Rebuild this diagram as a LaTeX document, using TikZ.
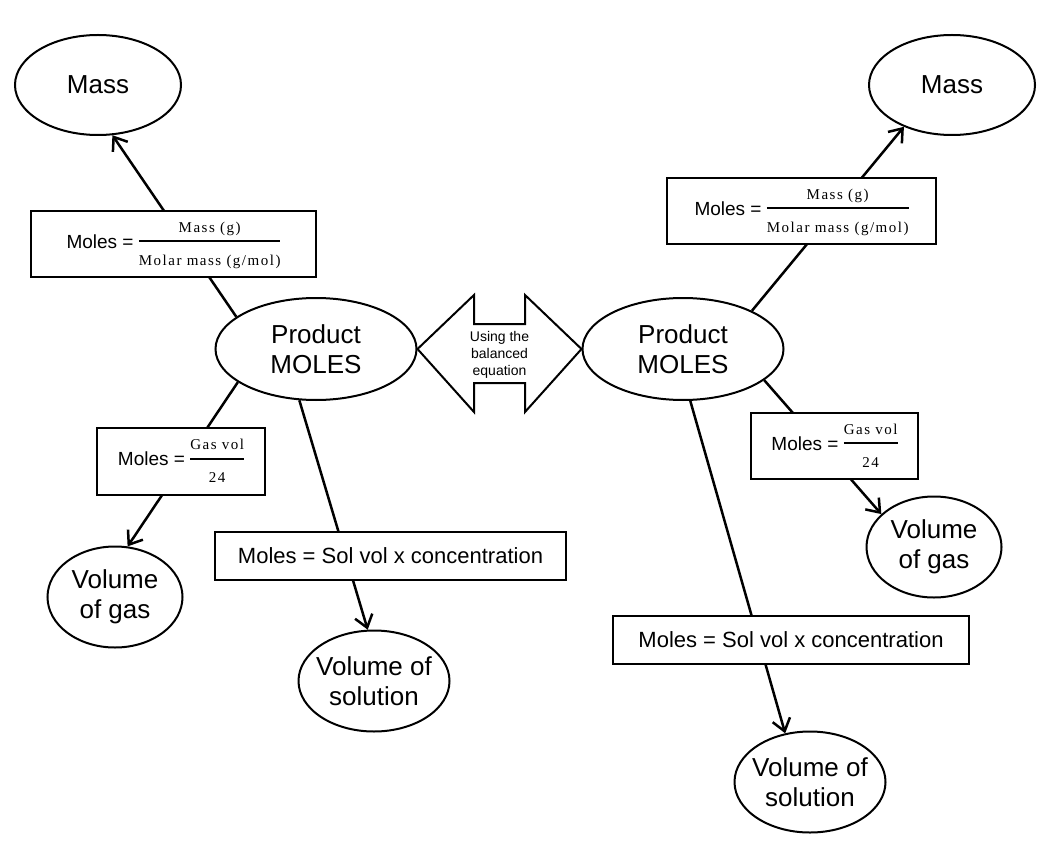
\documentclass[tikz,border=0pt]{standalone}
\usepackage{fontspec}
\setmainfont{Liberation Sans}
\newfontfamily\fracfont[LetterSpace=10]{Liberation Serif}
\usetikzlibrary{shapes}
\usetikzlibrary{arrows.meta}

\setlength{\arrayrulewidth}{2pt}
\newcommand{\molfrac}[2]{\begin{tabular}[c]{@{}c@{}}{\fracfont\fontsize{15}{17}\selectfont #1}\\[1pt]\hline\rule{0pt}{23pt}{\fracfont\fontsize{15}{17}\selectfont #2}\end{tabular}}

\begin{document}
\begin{tikzpicture}[x=1pt,y=-1pt]
				\tikzstyle{bubble}=[ellipse,draw,line width=2pt,inner sep=0pt]
				\tikzstyle{bubbletext}=[font=\fontsize{26}{30}\selectfont,align=center]
				\tikzstyle{formula}=[rectangle,draw,fill=white,line width=2.5pt,font=\fontsize{19}{23}\selectfont]
				\tikzstyle{solbox}=[formula,font=\fontsize{22}{26}\selectfont,minimum height=48pt]
				\tikzstyle{link}=[line width=2.5pt,-{Straight Barb[length=12pt,width=18pt]}]
				
				\useasboundingbox (0,0) rectangle (1064,866);
				
				% left side
				\node[bubble,minimum width=166pt,minimum height=100pt,label={[bubbletext]center:Mass}] (massL) at (98,85) {};
				\node[bubble,minimum width=201pt,minimum height=102pt,label={[bubbletext]center:Product\\MOLES}] (pmL) at (316,349) {};
				\node[bubble,minimum width=135pt,minimum height=101pt,label={[bubbletext]center:Volume\\of gas}] (gasL) at (115,597) {};
				\node[bubble,minimum width=151pt,minimum height=101pt,label={[bubbletext]center:Volume of\\solution}] (solL) at (374,681) {};
				
				% right side
				\node[bubble,minimum width=166pt,minimum height=100pt,label={[bubbletext]center:Mass}] (massR) at (952,85) {};
				\node[bubble,minimum width=201pt,minimum height=102pt,label={[bubbletext]center:Product\\MOLES}] (pmR) at (683,349) {};
				\node[bubble,minimum width=135pt,minimum height=101pt,label={[bubbletext]center:Volume\\of gas}] (gasR) at (934,547) {};
				\node[bubble,minimum width=151pt,minimum height=101pt,label={[bubbletext]center:Volume of\\solution}] (solR) at (810,782) {};
				
				\draw[link] (pmL.158) -- (massL.-74);
				\draw[link] (pmL.203) -- (gasL.76);
				\draw[link] (pmL.252) -- (solL.97);
				\draw[link] (pmR.29) -- (massR.221);
				\draw[link] (pmR.-21) -- (gasR.148);
				\draw[link] (pmR.-82) -- (solR.117);
				
				% formula boxes over the links
				\node[formula,minimum width=285pt,minimum height=66pt] (massboxL) at (173.5,244) {Moles = \molfrac{Mass (g)}{Molar mass (g/mol)}};
				\node[formula,minimum width=168pt,minimum height=67pt] (gasboxL) at (181,461.5) {Moles = \molfrac{Gas vol}{24}};
				\node[solbox,minimum width=351pt] (solboxL) at (390.5,556) {Moles = Sol vol x concentration};
				\node[formula,minimum width=269pt,minimum height=66pt] (massboxR) at (801.5,211) {Moles = \molfrac{Mass (g)}{Molar mass (g/mol)}};
				\node[formula,minimum width=167pt,minimum height=66pt] (gasboxR) at (834.5,446) {Moles = \molfrac{Gas vol}{24}};
				\node[solbox,minimum width=356pt] (solboxR) at (791,640) {Moles = Sol vol x concentration};
				
				% the two-way arrow
				\draw[line width=2pt,line join=miter] (pmL.east) -- (474,295) -- (474,324) -- (525,324) -- (525,295) -- (pmR.west) -- (525,412) -- (525,383) -- (474,383) -- (474,412) -- cycle;
				\node[font=\fontsize{14}{17}\selectfont,align=center] (balanced) at (499.5,355) {Using the\\balanced\\equation};
				
\end{tikzpicture}
\end{document}
